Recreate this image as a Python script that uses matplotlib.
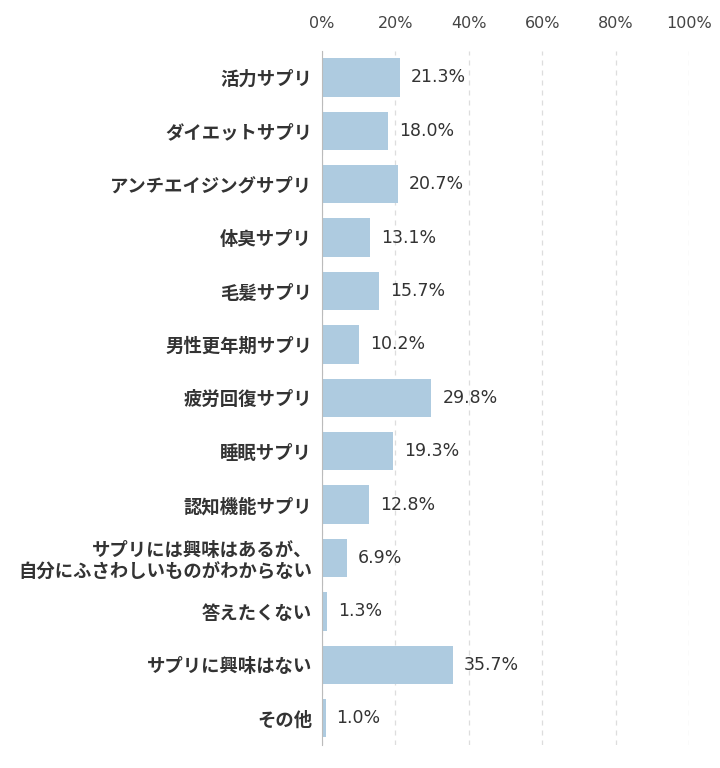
import matplotlib.pyplot as plt

plt.rcParams['font.family'] = ['Noto Sans CJK JP', 'DejaVu Sans']

categories = [
    "活力サプリ", "ダイエットサプリ", "アンチエイジングサプリ", "体臭サプリ", "毛髪サプリ",
    "男性更年期サプリ", "疲労回復サプリ", "睡眠サプリ", "認知機能サプリ",
    "サプリには興味はあるが、\n自分にふさわしいものがわからない",
    "答えたくない", "サプリに興味はない", "その他",
]
values = [21.3, 18.0, 20.7, 13.1, 15.7, 10.2, 29.8, 19.3, 12.8, 6.9, 1.3, 35.7, 1.0]
ticks = [0, 20, 40, 60, 80, 100]

fig = plt.figure(figsize=(7.2, 7.68), dpi=100)
ax = fig.add_axes([0.447, 0.030, 0.51, 0.904])

pos = list(range(len(categories)))
ax.barh(pos, values, height=0.72, color='#aecbe0', zorder=2)
for y, v in zip(pos, values):
    ax.text(v + 3.0, y, f"{v:.1f}%", va='center', ha='left', fontsize=12.5,
            color='#333333', family='DejaVu Sans')

ax.set_xlim(0, 100)
ax.set_ylim(len(categories) - 0.5, -0.5)
ax.set_yticks(pos)
ax.set_yticklabels(categories, fontsize=13.2, fontweight='bold', color='#333333', linespacing=1.2)
ax.set_xticks(ticks)
ax.set_xticklabels([f"{t}%" for t in ticks], fontsize=11.5, color='#444444', family='DejaVu Sans')
ax.xaxis.tick_top()
ax.tick_params(axis='both', length=0)
ax.tick_params(axis='x', pad=14)
ax.tick_params(axis='y', pad=7)
ax.grid(axis='x', linestyle=(0, (4, 4)), color='#dddddd', linewidth=0.9, zorder=0)
for s in ['top', 'right', 'bottom']:
    ax.spines[s].set_visible(False)
ax.spines['left'].set_color('#bbbbbb')

fig.savefig('out.png', dpi=100)
